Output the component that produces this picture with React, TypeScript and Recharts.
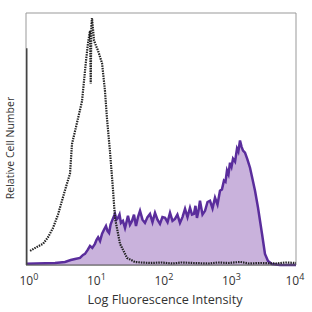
import React from 'react';
import { ComposedChart, Area, Line, XAxis, YAxis, ReferenceArea } from 'recharts';

// Isotype control (black dotted histogram)
const isoX = [1.15, 1.41, 1.79, 2.12, 2.51, 2.98, 3.41, 3.91, 4.49, 4.8, 5.7, 6.76, 7.74, 8.29, 8.88, 9.1, 9.3, 9.5, 10.2, 10.9, 11.7, 13.4, 14.8, 15.8, 17.5, 19.5, 20.8, 24.7, 31.4, 41.2, 50, 70, 100, 150, 200, 300, 500, 700, 1000, 1500, 2000, 3000, 5000, 7000, 10000];
const isoY = [0.056, 0.07, 0.084, 0.11, 0.147, 0.2, 0.255, 0.31, 0.363, 0.48, 0.565, 0.65, 0.81, 0.88, 0.93, 0.72, 0.95, 0.98, 0.89, 0.87, 0.85, 0.8, 0.69, 0.585, 0.454, 0.295, 0.187, 0.084, 0.028, 0.012, 0.01, 0.008, 0.01, 0.006, 0.01, 0.008, 0.006, 0.01, 0.008, 0.012, 0.006, 0.008, 0.006, 0.01, 0.008];

// Left-edge pile-up of the control (first channel)
const edgeX = [1, 1];
const edgeY = [0, 0.86];

// Stained sample (purple filled histogram)
const stainX = [1, 2.69, 3.78, 4.6, 5.32, 6.31, 7.0, 7.48, 8.2, 8.88, 9.6, 10.5, 11.1, 11.7, 12.5, 13.4, 14.3, 15.3, 16.1, 17, 17.9, 18.8, 19.8, 20.8, 21.9, 23.1, 24.3, 25.5, 27.3, 29.3, 30.8, 32.4, 34.7, 37.2, 39.8, 42.6, 45.6, 48.9, 53.2, 57.9, 63.1, 68.7, 74.8, 81.5, 88.7, 96.6, 105, 115, 125, 136, 148, 161, 175, 191, 208, 227, 247, 269, 288, 308, 324, 341, 359, 378, 412, 449, 489, 532, 580, 631, 687, 748, 800, 857, 902, 950, 1000, 1053, 1108, 1167, 1250, 1337, 1400, 1480, 1560, 1641, 1755, 1900, 2083, 2270, 2471, 2738, 3136, 3470, 3846, 4405, 5790, 10000];
const stainY = [0.005, 0.008, 0.012, 0.02, 0.024, 0.028, 0.04, 0.044, 0.06, 0.076, 0.068, 0.084, 0.1, 0.11, 0.095, 0.124, 0.14, 0.155, 0.135, 0.127, 0.16, 0.175, 0.19, 0.203, 0.18, 0.187, 0.2, 0.167, 0.175, 0.147, 0.17, 0.195, 0.16, 0.175, 0.2, 0.155, 0.19, 0.215, 0.18, 0.167, 0.19, 0.203, 0.17, 0.207, 0.18, 0.163, 0.19, 0.187, 0.17, 0.207, 0.175, 0.183, 0.2, 0.167, 0.19, 0.223, 0.19, 0.227, 0.2, 0.203, 0.235, 0.187, 0.215, 0.255, 0.2, 0.215, 0.25, 0.255, 0.225, 0.267, 0.24, 0.295, 0.3, 0.335, 0.33, 0.375, 0.36, 0.406, 0.39, 0.422, 0.41, 0.462, 0.45, 0.494, 0.47, 0.454, 0.446, 0.42, 0.386, 0.34, 0.295, 0.227, 0.124, 0.044, 0.016, 0.004, 0, 0];

const xTicks = [1, 10, 100, 1000, 10000];
const xLabel = 'Log Fluorescence Intensity';
const yLabel = 'Relative Cell Number';

const isoData = isoX.map((x, i) => ({ x, y: isoY[i] }));
const edgeData = edgeX.map((x, i) => ({ x, y: edgeY[i] }));
const stainData = stainX.map((x, i) => ({ x, y: stainY[i] }));

const FONT = '"Open Sans", sans-serif';

const PowTick = (props: any) => {
  const { x, payload } = props;
  const exp = Math.round(Math.log10(payload.value));
  return (
    <text x={x - 6.5} y={284.5} textAnchor="start" fontFamily={FONT} fontSize={12} fill="#333">
      <tspan>10</tspan>
      <tspan dy={-5} fontSize={9}>{exp}</tspan>
    </text>
  );
};

export default function App() {
  return (
    <div style={{ position: 'absolute', left: 0, top: 0 }}>
      <ComposedChart width={312} height={312} margin={{ top: 13, right: 16, bottom: 17, left: 0 }}>
        <XAxis
          dataKey="x"
          type="number"
          scale="log"
          domain={[1, 10000]}
          ticks={xTicks}
          allowDataOverflow
          height={30}
          tickLine={false}
          axisLine={{ stroke: '#555', strokeWidth: 1 }}
          tick={<PowTick />}
          label={(p: any) => (
            <text x={165} y={303.5} textAnchor="middle" fontFamily={FONT} fontSize={12.6} fill="#333">{xLabel}</text>
          )}
        />
        <YAxis
          type="number"
          domain={[0, 1]}
          width={26}
          tick={false}
          tickLine={false}
          axisLine={false}
          label={(p: any) => (
            <text x={14} y={148} transform="rotate(-90 14 148)" textAnchor="middle" fontFamily={FONT} fontSize={10.5} fill="#333">{yLabel}</text>
          )}
        />
        <ReferenceArea x1={1} x2={10000} y1={0} y2={1} fill="none" stroke="#999" strokeWidth={1} ifOverflow="visible" />
        <Area data={stainData} dataKey="y" type="linear" stroke="#5a2d9c" strokeWidth={2.5} fill="#c9b2dc" fillOpacity={1} isAnimationActive={false} dot={false} activeDot={false} />
        <Line data={isoData} dataKey="y" type="linear" stroke="#222" strokeWidth={2.2} strokeDasharray="1.5 1" dot={false} activeDot={false} isAnimationActive={false} />
        <Line data={edgeData} dataKey="y" type="linear" stroke="#444" strokeWidth={3} dot={false} activeDot={false} isAnimationActive={false} />
      </ComposedChart>
    </div>
  );
}
